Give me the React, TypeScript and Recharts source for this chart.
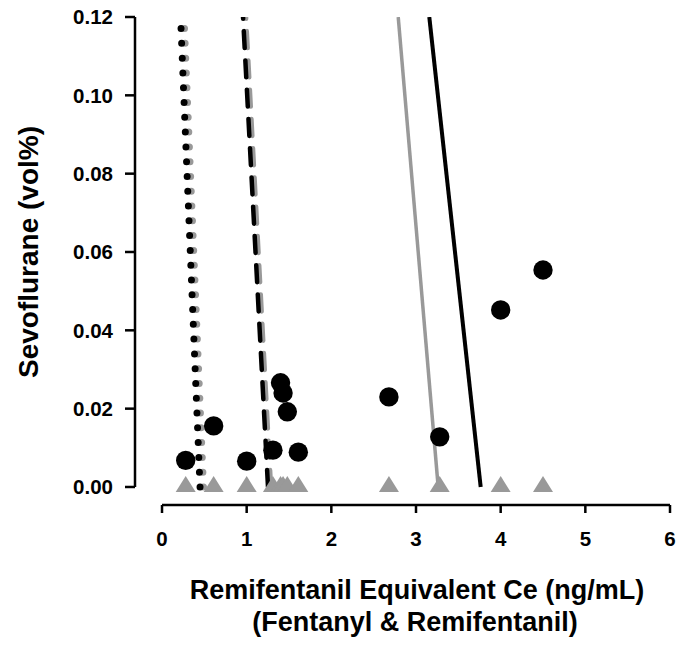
import { ScatterChart, Scatter, XAxis, YAxis, ReferenceLine } from "recharts";

// tick labels
const xTicks = [0, 1, 2, 3, 4, 5, 6];
const yTicks = [0, 0.02, 0.04, 0.06, 0.08, 0.1, 0.12];

// observed patients: remifentanil equivalent Ce vs sevoflurane
const ceValues = [0.28, 0.61, 1.0, 1.31, 1.4, 1.43, 1.48, 1.61, 2.68, 3.28, 4.0, 4.5];
const sevoValues = [0.0068, 0.0156, 0.0066, 0.0094, 0.0266, 0.024, 0.0192, 0.0089, 0.023, 0.0128, 0.0452, 0.0554];

// model isoboles: Ce at sevo = 0 and at sevo = 0.12
const lineSevo = [0, 0.12];
const dottedGrayCe = [0.49, 0.26];
const dottedBlackCe = [0.449, 0.219];
const dashedGrayCe = [1.287, 0.992];
const dashedBlackCe = [1.252, 0.957];
const solidGrayCe = [3.262, 2.79];
const solidBlackCe = [3.764, 3.157];

// domain starts a bit below zero so the axes sit apart from the data (R style)
const X_MIN = -0.319;
const Y_MIN = -0.0046;

const FONT = "'Liberation Sans', Arial, Helvetica, sans-serif";
const GRAY = "#999999";

const observed = ceValues.map((x, i) => ({ x, y: sevoValues[i] }));
const baseline = ceValues.map((x) => ({ x, y: 0 }));
const toLine = (ce: number[]) => ce.map((x, i) => ({ x, y: lineSevo[i] }));

const Dot = (p: any) => <circle cx={p.cx} cy={p.cy} r={9.7} fill="#000" />;
const Tri = (p: any) => (
  <polygon
    points={`${p.cx},${p.cy - 11} ${p.cx + 10},${p.cy + 5} ${p.cx - 10},${p.cy + 5}`}
    fill={GRAY}
  />
);
const NoShape = () => <g />;

const tickStyle = { fill: "#000", fontSize: 20.5, fontWeight: "bold", fontFamily: FONT };

export default function App() {
  return (
    <div style={{ position: "absolute", left: 0, top: 0, width: 679, height: 645, background: "#fff" }}>
      <ScatterChart width={679} height={645} margin={{ top: 17, right: 9, bottom: 80, left: 0 }}>
        <XAxis
          type="number"
          dataKey="x"
          domain={[X_MIN, 6]}
          ticks={xTicks}
          interval={0}
          allowDataOverflow
          height={60}
          axisLine={false}
          tickSize={8}
          tickMargin={18}
          tickLine={{ stroke: "#000", strokeWidth: 2.5 }}
          tick={tickStyle}
        />
        <YAxis
          type="number"
          dataKey="y"
          domain={[Y_MIN, 0.12]}
          ticks={yTicks}
          interval={0}
          allowDataOverflow
          width={135}
          axisLine={false}
          tickSize={10}
          tickMargin={12}
          tickLine={{ stroke: "#000", strokeWidth: 2.5 }}
          tick={tickStyle}
          tickFormatter={(v: number) => v.toFixed(2)}
        />
        <ReferenceLine
          segment={[{ x: xTicks[0], y: Y_MIN }, { x: xTicks[xTicks.length - 1], y: Y_MIN }]}
          stroke="#000"
          strokeWidth={2.5}
          ifOverflow="visible"
        />
        <ReferenceLine
          segment={[{ x: X_MIN, y: yTicks[0] }, { x: X_MIN, y: yTicks[yTicks.length - 1] }]}
          stroke="#000"
          strokeWidth={2.5}
          ifOverflow="visible"
        />

        <Scatter
          data={toLine(dottedGrayCe)}
          fill={GRAY}
          shape={NoShape}
          line={{ stroke: GRAY, strokeWidth: 7, strokeDasharray: "0 14.8", strokeLinecap: "round" }}
          isAnimationActive={false}
        />
        <Scatter
          data={toLine(dashedGrayCe)}
          fill={GRAY}
          shape={NoShape}
          line={{ stroke: GRAY, strokeWidth: 4.5, strokeDasharray: "17 12.3", strokeLinecap: "round" }}
          isAnimationActive={false}
        />
        <Scatter
          data={toLine(solidGrayCe)}
          fill={GRAY}
          shape={NoShape}
          line={{ stroke: GRAY, strokeWidth: 3.5 }}
          isAnimationActive={false}
        />
        <Scatter
          data={toLine(dottedBlackCe)}
          fill="#000"
          shape={NoShape}
          line={{ stroke: "#000", strokeWidth: 7, strokeDasharray: "0 14.8", strokeLinecap: "round" }}
          isAnimationActive={false}
        />
        <Scatter
          data={toLine(dashedBlackCe)}
          fill="#000"
          shape={NoShape}
          line={{ stroke: "#000", strokeWidth: 4.5, strokeDasharray: "17 12.3", strokeLinecap: "round" }}
          isAnimationActive={false}
        />
        <Scatter
          data={toLine(solidBlackCe)}
          fill="#000"
          shape={NoShape}
          line={{ stroke: "#000", strokeWidth: 4 }}
          isAnimationActive={false}
        />

        <Scatter data={observed} fill="#000" shape={Dot} isAnimationActive={false} />
        <Scatter data={baseline} fill={GRAY} shape={Tri} isAnimationActive={false} />
      </ScatterChart>

      <svg
        width={679}
        height={645}
        style={{ position: "absolute", left: 0, top: 0, pointerEvents: "none" }}
        fontFamily={FONT}
        fontWeight="bold"
        fontSize={27}
      >
        <text x={417} y={599} textAnchor="middle">
          Remifentanil Equivalent Ce (ng/mL)
        </text>
        <text x={415} y={631} textAnchor="middle">
          (Fentanyl &amp; Remifentanil)
        </text>
        <text transform="translate(37.5,252) rotate(-90)" textAnchor="middle" fontSize={28}>
          Sevoflurane (vol%)
        </text>
      </svg>
    </div>
  );
}
